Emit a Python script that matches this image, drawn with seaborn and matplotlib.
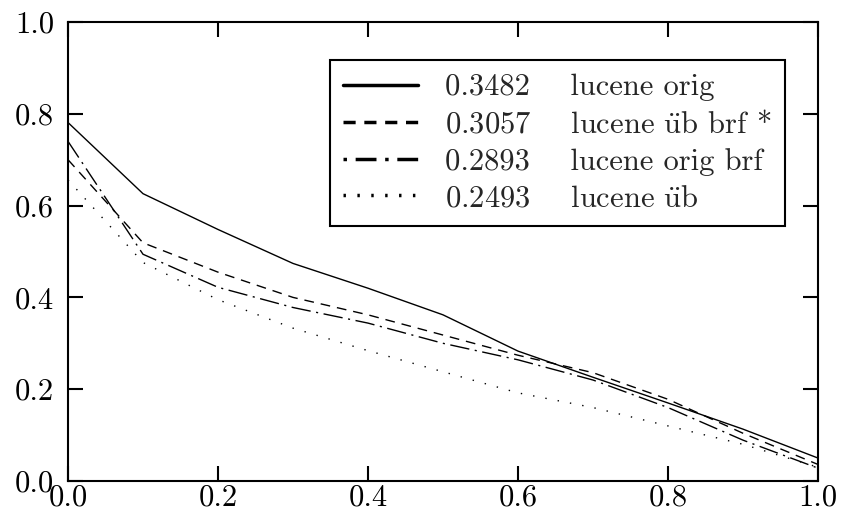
import matplotlib
matplotlib.use("Agg")
import matplotlib.pyplot as plt
from matplotlib.lines import Line2D
import seaborn as sns
import pandas as pd

recall = [0.0, 0.1, 0.2, 0.3, 0.4, 0.5, 0.6, 0.7, 0.8, 0.9, 1.0]
lucene_orig = [0.781, 0.626, 0.548, 0.474, 0.420, 0.362, 0.283, 0.226, 0.170, 0.113, 0.050]
lucene_ub_brf = [0.700, 0.519, 0.455, 0.400, 0.362, 0.318, 0.274, 0.236, 0.178, 0.104, 0.036]
lucene_orig_brf = [0.740, 0.494, 0.422, 0.378, 0.344, 0.300, 0.264, 0.220, 0.160, 0.089, 0.028]
lucene_ub = [0.656, 0.476, 0.395, 0.333, 0.284, 0.238, 0.192, 0.160, 0.120, 0.080, 0.030]

series_names = ["lucene orig", "lucene üb brf *", "lucene orig brf", "lucene üb"]
series_labels = [r"lucene orig", r"lucene $\ddot{\mathrm{u}}$b brf *",
                 r"lucene orig brf", r"lucene $\ddot{\mathrm{u}}$b"]
series_scores = ["0.3482", "0.3057", "0.2893", "0.2493"]
series_values = [lucene_orig, lucene_ub_brf, lucene_orig_brf, lucene_ub]

ticks = [0.0, 0.2, 0.4, 0.6, 0.8, 1.0]

sns.set_style("ticks")
plt.rcParams["font.family"] = ["cmr10", "DejaVu Serif"]
plt.rcParams["axes.formatter.use_mathtext"] = True
plt.rcParams["mathtext.fontset"] = "cm"

rows = []
for name, vals in zip(series_names, series_values):
    for r, v in zip(recall, vals):
        rows.append({"recall": r, "precision": v, "series": name})
df = pd.DataFrame(rows)

dash_styles = {
    "lucene orig": "",
    "lucene üb brf *": (7, 5),
    "lucene orig brf": (14, 4, 1.5, 4),
    "lucene üb": (1, 8),
}

fig = plt.figure(figsize=(8.41, 5.12), dpi=100)
ax = fig.add_axes([68 / 841, 1 - 481 / 512, 750 / 841, 459 / 512])

sns.lineplot(data=df, x="recall", y="precision", style="series",
             style_order=series_names, dashes=dash_styles,
             color="black", linewidth=1.0, ax=ax, legend=False)

ax.set_xlim(0, 1)
ax.set_ylim(0, 1)
ax.set_xticks(ticks)
ax.set_yticks(ticks)
ax.set_xticklabels([f"{t:.1f}" for t in ticks])
ax.set_yticklabels([f"{t:.1f}" for t in ticks])
ax.set_xlabel("")
ax.set_ylabel("")
ax.tick_params(direction="in", length=11, width=1.5, top=True, right=True,
               labelsize=22, colors="black")
ax.tick_params(axis="y", pad=10)
ax.tick_params(axis="x", pad=2)
for s in ax.spines.values():
    s.set_visible(True)
    s.set_linewidth(1.5)
    s.set_color("black")

legend_dashes = {
    "lucene orig": None,
    "lucene üb brf *": (3.5, 2.5),
    "lucene orig brf": (1, 2.5, 6, 2.5),
    "lucene üb": (0.7, 3.3),
}
handles = []
labels = []
for name, lab, score in zip(series_names, series_labels, series_scores):
    d = legend_dashes[name]
    if d is None:
        h = Line2D([0], [0], color="black", linewidth=2.5)
    else:
        h = Line2D([0], [0], color="black", linewidth=2.5, dashes=d)
    handles.append(h)
    labels.append(f"{score}    {lab}")

leg = ax.legend(handles, labels, loc="upper right", bbox_to_anchor=(0.956, 0.917),
                fontsize=22, frameon=True, fancybox=False, framealpha=1,
                edgecolor="black", handlelength=2.45, handletextpad=0.87,
                labelspacing=0.3, borderpad=0.45, borderaxespad=0)
leg.get_frame().set_linewidth(1.5)

fig.savefig("out.png", dpi=100)
